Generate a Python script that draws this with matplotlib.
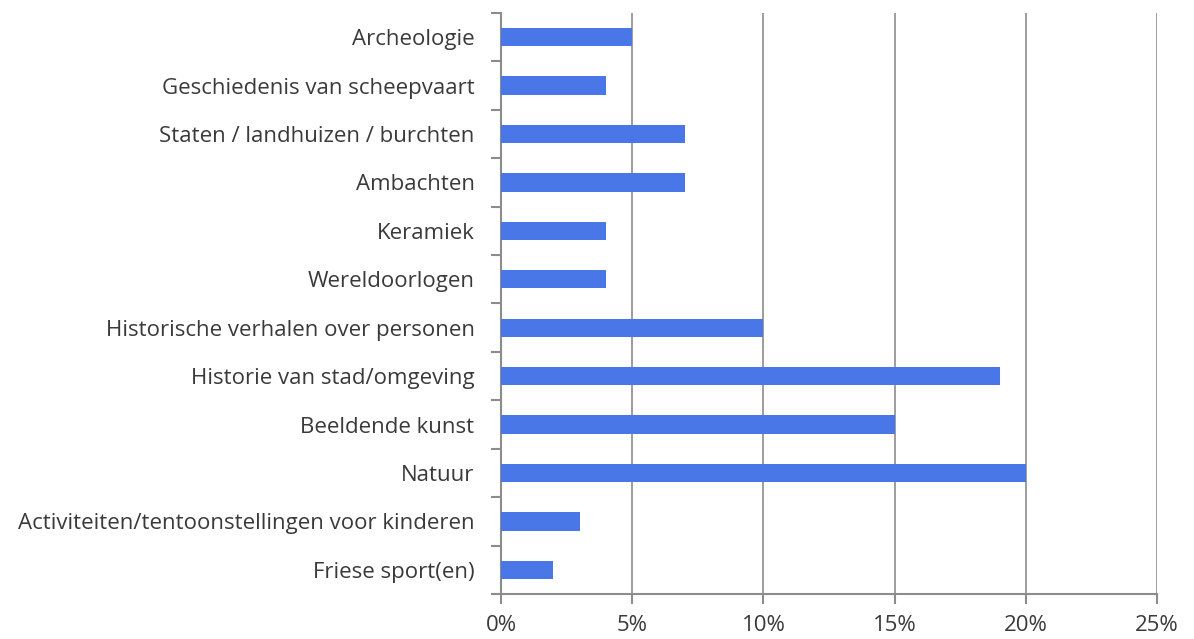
import matplotlib.pyplot as plt
import numpy as np

categories = [
    "Archeologie",
    "Geschiedenis van scheepvaart",
    "Staten / landhuizen / burchten",
    "Ambachten",
    "Keramiek",
    "Wereldoorlogen",
    "Historische verhalen over personen",
    "Historie van stad/omgeving",
    "Beeldende kunst",
    "Natuur",
    "Activiteiten/tentoonstellingen voor kinderen",
    "Friese sport(en)",
]
values = [5, 4, 7, 7, 4, 4, 10, 19, 15, 20, 3, 2]
xticks = [0, 5, 10, 15, 20, 25]
xticklabels = ["0%", "5%", "10%", "15%", "20%", "25%"]

plt.rcParams['font.family'] = ['Open Sans', 'DejaVu Sans']
grey = '#8c8c8c'
text_color = '#3a3a3a'

fig = plt.figure(figsize=(11.94, 6.39), dpi=100)
ax = fig.add_axes([0.4196, 0.0704, 0.969 - 0.4196, 0.9797 - 0.0704])

y = np.arange(len(categories))
ax.barh(y, values, height=0.38, color='#4a77e8', zorder=3)

ax.set_ylim(len(categories) - 0.5, -0.5)
ax.set_xlim(0, 25)

ax.set_yticks(y)
ax.set_yticklabels(categories, fontsize=16, color=text_color)
ax.set_yticks(np.arange(len(categories) + 1) - 0.5, minor=True)
ax.tick_params(axis='y', which='major', length=0, pad=19)
ax.tick_params(axis='y', which='minor', length=7, color=grey, width=1.5)

ax.set_xticks(xticks)
ax.set_xticklabels(xticklabels, fontsize=16, color=text_color)
ax.tick_params(axis='x', length=7, color=grey, width=1.5, pad=8)

ax.grid(axis='x', color=grey, linewidth=1.2, zorder=0)
for side in ['top', 'right']:
    ax.spines[side].set_visible(False)
for side in ['left', 'bottom']:
    ax.spines[side].set_color(grey)
    ax.spines[side].set_linewidth(1.5)

fig.savefig('out.png', dpi=100)
